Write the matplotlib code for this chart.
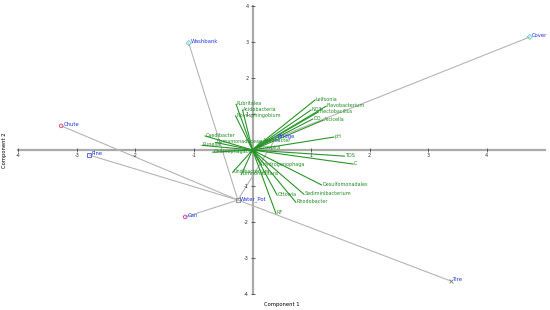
import numpy as np
import matplotlib.pyplot as plt

plt.rcParams['axes.unicode_minus'] = False

# species / environmental vectors (component 1, component 2)
species = ['Leifsonia', 'Flavobacterium', 'NO3', 'Flectobacillus', 'DO', 'Arcicella',
           'pH', 'TDS', 'C', 'Desulfomonadales', 'Sediminibacterium', 'Rhodobacter',
           'Ottowia', 'RF', 'Hydrogenophaga', 'Undibacterium', 'Limnohabitans',
           'Chitinophagaceae', 'Comamonadaceae', 'Runella', 'Caedibacter',
           'Rubritalea', 'Acidobacteria', 'Novosphingobium', 'Aquabacter', 'Nitrospira']
sp_x = [1.07, 1.26, 1.00, 1.13, 1.03, 1.21, 1.39, 1.57, 1.72, 1.18, 0.88, 0.74,
        0.42, 0.40, 0.16, -0.34, -0.19, -0.68, -0.63, -0.86, -0.81,
        -0.28, -0.17, -0.29, 0.16, 0.05]
sp_y = [1.39, 1.22, 1.11, 1.06, 0.86, 0.83, 0.36, -0.17, -0.39, -0.97, -1.23, -1.45,
        -1.25, -1.76, -0.42, -0.62, -0.68, -0.06, 0.21, 0.13, 0.39,
        1.27, 1.11, 0.95, 0.25, 0.05]

# sites
sites = ['Cover', 'Washbank', 'Chute', 'Pine', 'Water_Pot', 'Can', 'Tire', 'Bridge']
site_x = [4.74, -1.09, -3.27, -2.79, -0.25, -1.15, 3.39, 0.40]
site_y = [3.14, 2.97, 0.67, -0.14, -1.39, -1.86, -3.64, 0.33]
edges = [('Washbank', 'Water_Pot'), ('Chute', 'Water_Pot'), ('Pine', 'Water_Pot'),
         ('Can', 'Water_Pot'), ('Tire', 'Water_Pot'), ('Bridge', 'Water_Pot'),
         ('Cover', 'Bridge')]

site_style = {'Cover': ('D', '#66cccc'), 'Washbank': ('D', '#66cccc'),
              'Chute': ('o', '#dd4477'), 'Pine': ('s', '#4455dd'),
              'Water_Pot': ('s', '#888888'), 'Can': ('o', '#cc33aa'),
              'Tire': ('x', '#777777'), 'Bridge': ('s', '#6688cc')}

fig = plt.figure(figsize=(5.5, 3.1), dpi=100)
ax = fig.add_axes([0, 0, 1, 1])
ax.set_xlim(-4.316, 5.085)
ax.set_ylim(-4.444, 4.167)

for s in ['top', 'right']:
    ax.spines[s].set_visible(False)
ax.spines['left'].set_position(('data', 0))
ax.spines['bottom'].set_position(('data', 0))
ax.spines['left'].set_bounds(-4, 4)
ax.spines['bottom'].set_bounds(-4, 5)
for s in ['left', 'bottom']:
    ax.spines[s].set_color('#aaaaaa')
    ax.spines[s].set_linewidth(1.6)
    ax.spines[s].set_zorder(0)

ticks = [-4, -3, -2, -1, 1, 2, 3, 4]
ax.set_xticks(ticks)
ax.set_yticks(ticks)
ax.set_xticklabels([str(t) for t in ticks])
ax.set_yticklabels([str(t) for t in ticks])
ax.tick_params(direction='inout', length=3, width=0.5, labelsize=3.5, pad=1,
               colors='#333333')

ax.text(0.5, -4.28, 'Component 1', fontsize=3.8, ha='center', va='center')
ax.text(-4.24, 0, 'Component 2', fontsize=3.8, ha='center', va='center', rotation=90)

# grey connections between sites
pos = {n: (x, y) for n, x, y in zip(sites, site_x, site_y)}
for a, b in edges:
    ax.plot([pos[a][0], pos[b][0]], [pos[a][1], pos[b][1]], color='#b5b5b5', lw=0.8,
            zorder=1)

# green vectors
for name, x, y in zip(species, sp_x, sp_y):
    ax.plot([0, x], [0, y], color='#2a962a', lw=0.8, zorder=2)
    ax.annotate(name, (x, y), xytext=(0.5, 0.5), textcoords='offset points',
                fontsize=3.5, color='#228b22', ha='left', va='center')

# sites
for name, x, y in zip(sites, site_x, site_y):
    m, c = site_style[name]
    if m == 'x':
        ax.scatter(x, y, marker=m, s=8, color=c, linewidths=0.6, zorder=3)
    else:
        ax.scatter(x, y, marker=m, s=7, facecolors='none', edgecolors=c,
                   linewidths=0.6, zorder=3)
    ax.annotate(name, (x, y), xytext=(1.5, 1), textcoords='offset points',
                fontsize=3.8, color='#2233ee', ha='left', va='center')

fig.savefig('out.png', dpi=100)
